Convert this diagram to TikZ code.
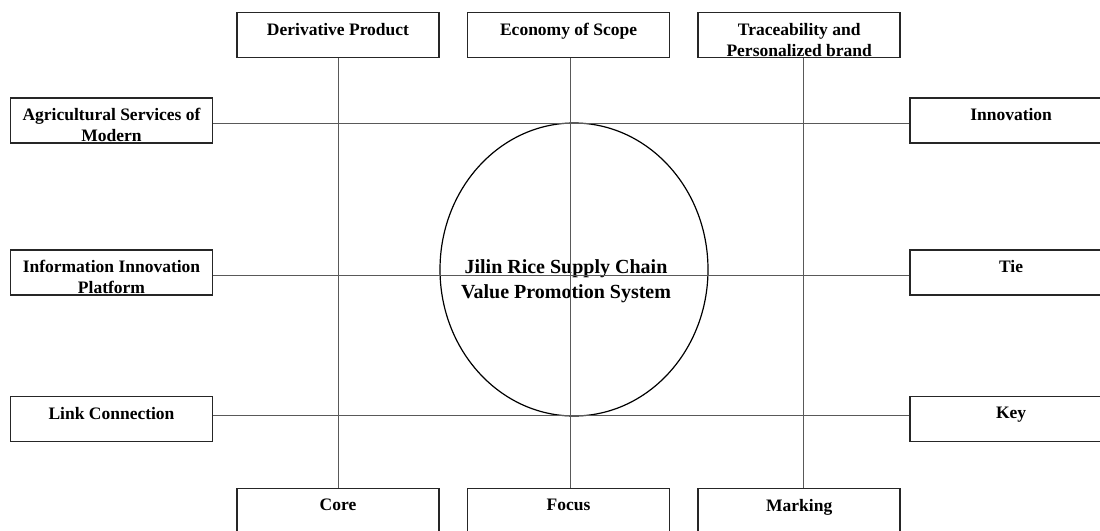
\documentclass[tikz,border=0pt]{standalone}
\usepackage{fontspec}
\setmainfont{Liberation Serif}
\usetikzlibrary{positioning, shapes.geometric}

\begin{document}
\begin{tikzpicture}[x=1pt,y=-1pt,
  box/.style={rectangle, draw=black!85, line width=1.6pt, minimum width=202pt, minimum height=45pt, inner sep=0pt},
  lbl/.style={anchor=north, yshift=-11pt, inner sep=0pt, align=center, font=\fontsize{17.5}{21}\selectfont\bfseries},
  wire/.style={draw=black!65, line width=1pt},
  title/.style={inner sep=0pt, align=center, font=\fontsize{20}{25}\selectfont\bfseries}]
\useasboundingbox (0,0) rectangle (1100,530);

% Top row
\node[box, label={[lbl]north:Derivative Product}] (derive) at (338,35) {};
\node[box, label={[lbl]north:Economy of Scope}, right=27pt of derive] (economy) {};
\node[box, label={[lbl]north:Traceability and\\Personalized brand}, right=27pt of economy] (trace) {};

% Bottom row
\node[box, label={[lbl]north:Core}] (core) at (338,511) {};
\node[box, label={[lbl]north:Focus}, right=27pt of core] (focus) {};
\node[box, label={[lbl]north:Marking}, right=27pt of focus] (marking) {};

% Left column
\node[box, label={[lbl]north:Agricultural Services of\\Modern}] (agri) at (111.5,120.5) {};
\node[box, label={[lbl]north:Information Innovation\\Platform}] (info) at (111.5,272.5) {};
\node[box, label={[lbl]north:Link Connection}] (linkc) at (111.5,419) {};

% Right column
\node[box, label={[lbl]north:Innovation}, right=696pt of agri] (innov) {};
\node[box, label={[lbl]north:Tie}, right=696pt of info] (tie) {};
\node[box, label={[lbl]north:Key}, right=696pt of linkc] (key) {};

% Value promotion system
\node[ellipse, draw=black, line width=1.2pt, minimum width=268pt, minimum height=293pt, inner sep=0pt] (sys) at (574,269.5) {};
\node[title] (systxt) at ([xshift=-8pt, yshift=-12pt]sys.center) {Jilin Rice Supply Chain\\Value Promotion System};

% Horizontal lines
\draw[wire] ([yshift=-2.5pt]agri.east) -- ([yshift=-2.5pt]innov.west);
\draw[wire] ([yshift=-2.5pt]info.east) -- ([yshift=-2.5pt]tie.west);
\draw[wire] ([yshift=4pt]linkc.east) -- ([yshift=4pt]key.west);

% Vertical lines
\draw[wire] (derive.south) -- (core.north);
\draw[wire] ([xshift=2pt]economy.south) -- ([xshift=2pt]focus.north);
\draw[wire] ([xshift=4pt]trace.south) -- ([xshift=4pt]marking.north);
\end{tikzpicture}
\end{document}
